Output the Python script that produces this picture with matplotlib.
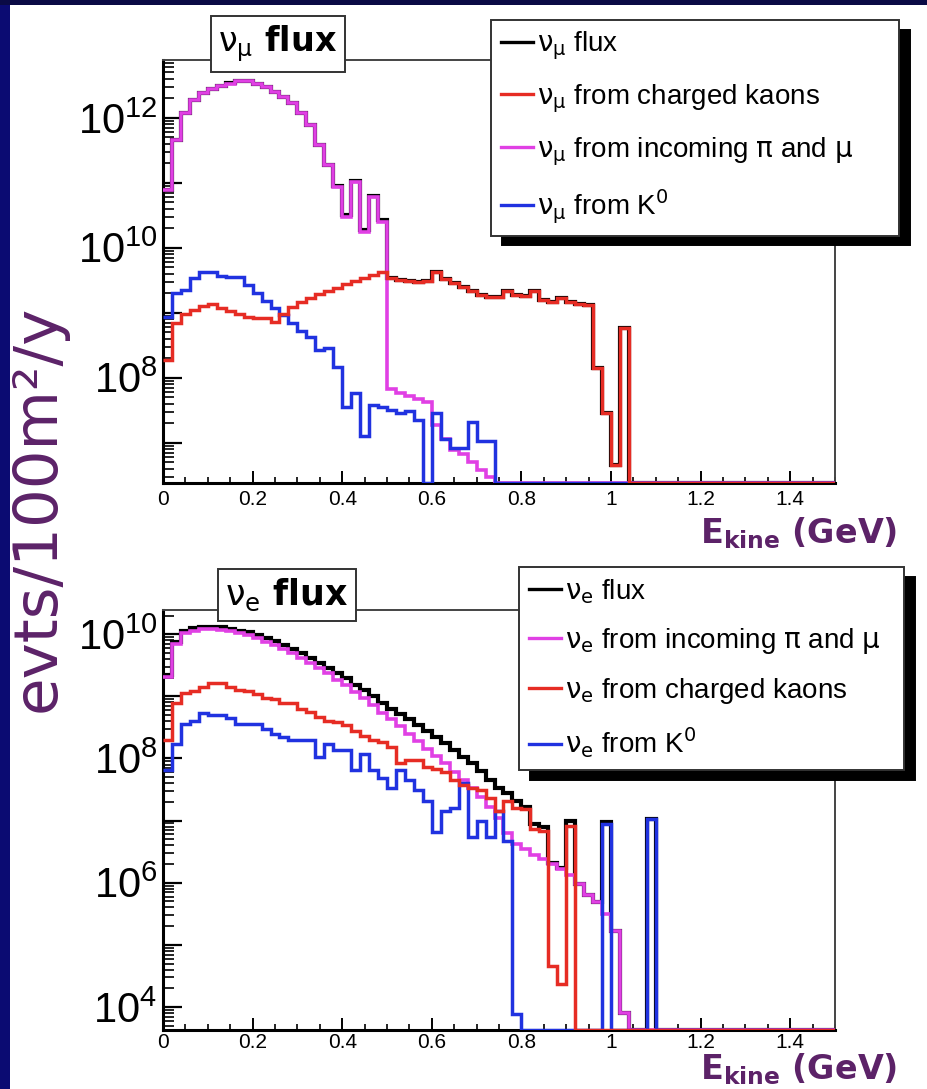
import numpy as np
import matplotlib
matplotlib.use('Agg')
import matplotlib.pyplot as plt
from matplotlib.patches import Rectangle
from matplotlib.lines import Line2D
from matplotlib.ticker import LogLocator, MultipleLocator, FuncFormatter, NullFormatter

plt.rcParams['font.family'] = ['Liberation Sans', 'DejaVu Sans']

# binning: 20 MeV bins of kinetic energy, 0 - 1.5 GeV
BIN_WIDTH = 0.02
N_BINS = 75
edges = np.arange(N_BINS + 1) * BIN_WIDTH

# log10(evts/100m2/y) per bin, None = empty bin
numu_total = [10.89, 11.66, 12.08, 12.28, 12.38, 12.44, 12.49, 12.53, 12.57, 12.57,
              12.52, 12.48, 12.40, 12.32, 12.23, 12.08, 11.89, 11.58, 11.28, 10.95,
              10.50, 11.03, 10.28, 10.79, 10.42, 9.54, 9.51, 9.49, 9.48, 9.49,
              9.62, 9.52, 9.46, 9.40, 9.34, 9.28, 9.25, 9.25, 9.34, 9.28,
              9.26, 9.34, 9.20, 9.17, 9.23, 9.17, 9.14, 9.12, 8.15, 7.46,
              6.66, 8.77]
numu_kaon = [8.28, 8.85, 8.98, 9.05, 9.11, 9.14, 9.08, 9.03, 8.98, 8.94,
             8.92, 8.92, 8.86, 8.98, 9.09, 9.17, 9.23, 9.29, 9.34, 9.38,
             9.45, 9.49, 9.54, 9.58, 9.63, 9.54, 9.51, 9.49, 9.48, 9.49,
             9.62, 9.52, 9.46, 9.40, 9.34, 9.28, 9.25, 9.25, 9.34, 9.28,
             9.26, 9.34, 9.20, 9.17, 9.23, 9.17, 9.14, 9.12, 8.15, 7.46,
             6.66, 8.77]
numu_pimu = [10.89, 11.66, 12.08, 12.28, 12.38, 12.44, 12.49, 12.52, 12.56, 12.56,
             12.52, 12.48, 12.40, 12.32, 12.23, 12.08, 11.89, 11.58, 11.28, 10.94,
             10.48, 11.02, 10.25, 10.78, 10.40, 7.82, 7.77, 7.72, 7.68, 7.62,
             7.28, 7.05, 6.89, 6.82, 6.71, 6.58, 6.48]
numu_k0 = [8.94, 9.31, 9.35, 9.54, 9.62, 9.62, 9.56, 9.55, 9.55, 9.42,
           9.30, 9.18, 9.08, 8.97, 8.85, 8.72, 8.62, 8.43, 8.46, 8.17,
           7.55, 7.77, 7.10, 7.58, 7.55, 7.50, 7.46, 7.49, 7.35, None,
           7.46, 7.05, 6.92, 6.92, 7.32, 7.02, 7.02]

nue_total = [9.35, 9.88, 10.06, 10.10, 10.12, 10.12, 10.11, 10.09, 10.06, 10.03,
             9.99, 9.94, 9.89, 9.83, 9.77, 9.70, 9.62, 9.54, 9.46, 9.37,
             9.29, 9.19, 9.10, 9.00, 8.90, 8.80, 8.72, 8.63, 8.54, 8.45,
             8.35, 8.25, 8.14, 8.03, 7.92, 7.80, 7.66, 7.53, 7.45, 7.32,
             7.22, 6.95, 6.90, 6.31, 6.24, 7.00, 5.98, 5.80, 5.69, 6.97,
             5.23, 3.90, None, None, 7.03]
nue_pimu = [9.31, 9.85, 10.02, 10.06, 10.08, 10.08, 10.07, 10.05, 10.02, 9.98,
            9.94, 9.88, 9.83, 9.76, 9.70, 9.62, 9.54, 9.45, 9.37, 9.27,
            9.18, 9.07, 8.97, 8.86, 8.74, 8.63, 8.52, 8.40, 8.28, 8.16,
            8.04, 7.92, 7.78, 7.66, 7.52, 7.38, 7.22, 7.05, 6.80, 6.63,
            6.55, 6.45, 6.38, 6.30, 6.22, 6.12, 5.98, 5.80, 5.69, 5.50,
            5.23, 3.90]
nue_kaon = [8.29, 8.89, 9.05, 9.08, 9.15, 9.21, 9.21, 9.15, 9.10, 9.08,
            9.03, 8.97, 8.95, 8.90, 8.89, 8.80, 8.75, 8.66, 8.61, 8.58,
            8.54, 8.45, 8.36, 8.30, 8.27, 8.18, 7.92, 7.97, 7.97, 7.87,
            7.83, 7.78, 7.66, 7.58, 7.53, 7.50, 7.37, 7.16, 7.32, 7.21,
            7.18, 6.86, 6.84, 4.66, 4.37, 6.92]
nue_k0 = [7.81, 8.24, 8.56, 8.60, 8.74, 8.70, 8.70, 8.65, 8.56, 8.56,
          8.56, 8.48, 8.40, 8.35, 8.29, 8.29, 8.29, 8.02, 8.24, 8.13,
          8.13, 7.81, 8.08, 7.81, 7.69, 7.53, 7.81, 7.65, 7.50, 7.32,
          6.82, 7.16, 7.21, 7.60, 6.73, 7.00, 6.73, 7.16, 6.68, 3.89,
          None, None, None, None, None, None, None, None, None, 6.95,
          None, None, None, None, 7.03]

TOP_YLIM = (10 ** 6.38, 10 ** 12.89)
BOT_YLIM = (10 ** 3.63, 10 ** 10.39)

COLORS = {'total': 'black', 'kaon': '#e62c24', 'pimu': '#e040e4', 'k0': '#2032e0'}
WIDTHS = {'total': 3.0, 'kaon': 2.5, 'pimu': 2.6, 'k0': 2.5}
DRAW_ORDER = ['total', 'pimu', 'k0', 'kaon']
PURPLE = '#5c2268'

W, H = 928, 1089


def fx(px):
    return px / W


def fy(py):
    return 1 - py / H


def to_flux(log_vals, floor):
    # empty bins sit on the bottom of the frame, like ROOT does
    flux = np.full(N_BINS, floor)
    for i, lv in enumerate(log_vals):
        if lv is not None:
            flux[i] = 10 ** lv
    return flux


def decade_label(v, pos):
    e = int(round(np.log10(v)))
    if e % 2:
        return ''
    return r'$\mathregular{10^{%d}}$' % e


def style_axes(ax, ylim, xpad):
    ax.set_xlim(0, 1.5)
    ax.set_yscale('log')
    ax.set_ylim(*ylim)
    ax.yaxis.set_major_locator(LogLocator(base=10, numticks=30))
    ax.yaxis.set_minor_locator(LogLocator(base=10, subs=np.arange(2, 10), numticks=30))
    ax.yaxis.set_major_formatter(FuncFormatter(decade_label))
    ax.yaxis.set_minor_formatter(NullFormatter())
    ax.xaxis.set_major_locator(MultipleLocator(0.2))
    ax.xaxis.set_minor_locator(MultipleLocator(0.05))
    ax.xaxis.set_major_formatter(FuncFormatter(lambda v, p: '%g' % round(v, 2)))
    ax.tick_params(axis='y', which='major', direction='in', length=14, width=1.6,
                   labelsize=30, pad=4)
    ax.tick_params(axis='y', which='minor', direction='in', length=8, width=1.2)
    ax.tick_params(axis='x', which='major', direction='in', length=8.5, width=1.4,
                   labelsize=15, pad=xpad)
    ax.tick_params(axis='x', which='minor', direction='in', length=4.5, width=1.2)
    for side in ['left', 'bottom']:
        ax.spines[side].set_linewidth(2.2)
        ax.spines[side].set_color('black')
    for side in ['top', 'right']:
        ax.spines[side].set_linewidth(1.4)
        ax.spines[side].set_color('#444444')


def draw_panel(ax, series, ylim, legend_keys, labels, legend_box, xpad):
    style_axes(ax, ylim, xpad)
    for key in DRAW_ORDER:
        ax.stairs(to_flux(series[key], ylim[0]), edges, baseline=None,
                  color=COLORS[key], lw=WIDTHS[key], zorder=3)
    handles = [Line2D([], [], color=COLORS[k], lw=2.4) for k in legend_keys]
    x0, y0, x1, y1 = legend_box
    leg = ax.legend(handles, [labels[k] for k in legend_keys],
                    loc='upper left', mode='expand',
                    bbox_to_anchor=(fx(x0), fy(y1), (x1 - x0) / W, (y1 - y0) / H),
                    bbox_transform=fig.transFigure, borderaxespad=0,
                    fontsize=20, handlelength=1.15, handletextpad=0.15,
                    labelspacing=0.72, borderpad=0.35, fancybox=False,
                    framealpha=1, edgecolor='#333333',
                    shadow={'ox': 8, 'oy': -7, 'color': 'black', 'alpha': 1.0})
    leg.get_frame().set_linewidth(1.4)
    leg.set_zorder(10)


fig = plt.figure(figsize=(W / 100, H / 100), dpi=100)
fig.patch.set_facecolor('#0b0b72')
fig.add_artist(Rectangle((0, fy(5)), 1, 5 / H, transform=fig.transFigure,
                         facecolor='#0a0a45', edgecolor='none', zorder=-2))
fig.add_artist(Rectangle((fx(10), 0), 1 - fx(10), fy(5), transform=fig.transFigure,
                         facecolor='white', edgecolor='none', zorder=-1))

ax_top = fig.add_axes([fx(163), fy(483), 672 / W, 423 / H])
ax_bot = fig.add_axes([fx(163), fy(1030), 672 / W, 420 / H])

numu_labels = {'total': r'$\mathrm{\nu_{\mu}}$ flux',
               'kaon': r'$\mathrm{\nu_{\mu}}$ from charged kaons',
               'pimu': r'$\mathrm{\nu_{\mu}}$ from incoming $\mathrm{\pi}$ and $\mathrm{\mu}$',
               'k0': r'$\mathrm{\nu_{\mu}}$ from K$^{0}$'}
nue_labels = {'total': r'$\mathrm{\nu_{e}}$ flux',
              'pimu': r'$\mathrm{\nu_{e}}$ from incoming $\mathrm{\pi}$ and $\mathrm{\mu}$',
              'kaon': r'$\mathrm{\nu_{e}}$ from charged kaons',
              'k0': r'$\mathrm{\nu_{e}}$ from K$^{0}$'}

draw_panel(ax_top,
           {'total': numu_total, 'kaon': numu_kaon, 'pimu': numu_pimu, 'k0': numu_k0},
           TOP_YLIM, ['total', 'kaon', 'pimu', 'k0'], numu_labels, (491, 20, 899, 238), 5)
draw_panel(ax_bot,
           {'total': nue_total, 'kaon': nue_kaon, 'pimu': nue_pimu, 'k0': nue_k0},
           BOT_YLIM, ['total', 'pimu', 'kaon', 'k0'], nue_labels, (519, 567, 904, 770), 2)

# panel titles in framed boxes
title_box = dict(boxstyle='square,pad=0.22', facecolor='white', edgecolor='#333333', lw=1.4)
fig.text(fx(278), fy(44), r'$\mathrm{\nu_{\mu}}$ flux', ha='center', va='center',
         fontsize=24, fontweight='bold', family='DejaVu Sans', bbox=title_box)
fig.text(fx(287), fy(595), r'$\mathrm{\nu_{e}}$ flux', ha='center', va='center',
         fontsize=25, fontweight='bold', family='DejaVu Sans', bbox=title_box)

# axis titles
for base in [543, 1079]:
    fig.text(fx(897), fy(base), r'E$_{\mathbf{kine}}$ (GeV)', ha='right', va='baseline',
             fontsize=24, fontweight='bold', color=PURPLE, family='DejaVu Sans')
fig.text(fx(38), fy(508), 'evts/100m²/y', rotation=90, ha='center', va='center',
         fontsize=44, color=PURPLE, family='DejaVu Sans')

fig.savefig('out.png', dpi=100, facecolor=fig.get_facecolor())
